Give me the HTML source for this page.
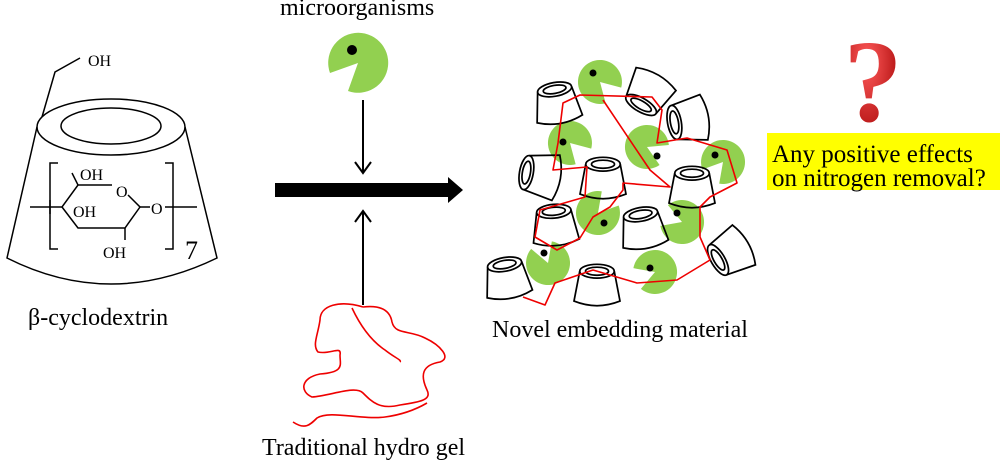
<!DOCTYPE html>
<html><head><meta charset="utf-8"><style>
html,body{margin:0;padding:0;background:#fff;}
svg{display:block;}
text{font-family:"Liberation Serif",serif;fill:#000;}
</style></head><body>
<svg width="1000" height="466" viewBox="0 0 1000 466" xmlns="http://www.w3.org/2000/svg">
<defs>
<path id="pac" d="M0,0 L19,-11 A22,22 0 1 0 19,11 Z" fill="#92d050"/>
<g id="cup" fill="none" stroke="#000" stroke-width="1.5">
<ellipse cx="0" cy="-12" rx="15" ry="6"/>
<ellipse cx="0" cy="-12" rx="10" ry="3.5"/>
<path d="M-15,-12 L-20,14 Q0,22 20,14 L15,-12"/>
</g>
<radialGradient id="qg" cx="0.4" cy="0.35" r="0.7"><stop offset="0" stop-color="#ff5a5a"/><stop offset="1" stop-color="#a00000"/></radialGradient>
</defs>

<!-- beta-cyclodextrin -->
<g fill="none" stroke="#000" stroke-width="1.5">
<path d="M42,117 L55,72 L80,58"/>
<ellipse cx="111" cy="127" rx="74" ry="28" fill="#fff"/>
<ellipse cx="111" cy="126" rx="50" ry="18"/>
<path d="M37,127 L7,258 Q110,310 217,258 L185,127"/>
<path d="M58,163 L50,163 L50,249 L58,249"/>
<path d="M165,163 L173,163 L173,249 L165,249"/>
<path d="M30,207 L62,207 L78,185 L112,185"/>
<path d="M128,195 L140,207 L125,228 L78,228 L62,207"/>
<path d="M78,185 L72,173"/>
<path d="M125,228 L125,240"/>
<path d="M140,207 L150,207"/>
<path d="M165,207 L197,207"/>
<path d="M50,200 L50,214"/>
</g>
<text x="88" y="66" font-size="16">OH</text>
<text x="80" y="180" font-size="16">OH</text>
<text x="116" y="197" font-size="16">O</text>
<text x="73" y="217" font-size="16">OH</text>
<text x="151" y="214" font-size="16">O</text>
<text x="103" y="258" font-size="16">OH</text>
<text x="185" y="259" font-size="26">7</text>
<text x="28" y="325" font-size="24">β-cyclodextrin</text>

<!-- middle -->
<text x="280" y="15" font-size="24">microorganisms</text>
<path d="M358,63 L330,73 A30,30 0 1 1 348,91 Z" fill="#92d050"/>
<circle cx="352" cy="50" r="5" fill="#000"/>
<g stroke="#000" stroke-width="2" fill="none">
<line x1="363" y1="100" x2="363" y2="172"/>
<path d="M355,162 L363,173 L371,162"/>
<line x1="363" y1="305" x2="363" y2="212"/>
<path d="M355,222 L363,211 L371,222"/>
</g>
<polygon points="275,183 448,183 448,177 463,190 448,203 448,197 275,197" fill="#000"/>
<path d="M363,307 C340,300 320,305 320,320 C318,335 312,345 318,352 C330,355 342,345 340,355 C340,365 345,372 320,374 C300,378 300,392 312,397 C330,396 355,385 363,393 C372,402 380,410 400,405 C420,402 432,400 427,390 C420,375 422,365 440,362 C452,358 440,345 425,338 C410,330 395,335 392,322 C390,310 380,305 363,307 M352,308 C360,325 370,340 385,350 C395,358 402,360 400,362 M427,403 C415,410 400,415 385,417 C360,420 330,410 317,418 C310,425 305,430 293,422" fill="none" stroke="#e00" stroke-width="1.6"/>
<text x="262" y="455" font-size="24">Traditional hydro gel</text>

<!-- embedding material -->
<use href="#pac" transform="translate(600,82) rotate(45)"/>
<use href="#pac" transform="translate(570,143) rotate(45)"/>
<use href="#pac" transform="translate(647,147) rotate(25)"/>
<use href="#pac" transform="translate(723,162) rotate(130)"/>
<use href="#pac" transform="translate(598,213) rotate(-50)"/>
<use href="#pac" transform="translate(682,222) rotate(200)"/>
<use href="#pac" transform="translate(548,263) rotate(-110)"/>
<use href="#pac" transform="translate(655,272) rotate(160)"/>
<g fill="#000">
<circle cx="593" cy="73" r="3.5"/><circle cx="563" cy="142" r="3.5"/><circle cx="657" cy="156" r="3.5"/><circle cx="715" cy="155" r="3.5"/>
<circle cx="604" cy="223" r="3.5"/><circle cx="677" cy="213" r="3.5"/><circle cx="544" cy="253" r="3.5"/><circle cx="650" cy="268" r="3.5"/>
</g>
<use href="#cup" transform="translate(557,103) rotate(-10) scale(1.15)"/>
<use href="#cup" transform="translate(648,93) rotate(-150) scale(1.15)"/>
<use href="#cup" transform="translate(688,120) rotate(-100) scale(1.15)"/>
<use href="#cup" transform="translate(540,175) rotate(-80) scale(1.15)"/>
<use href="#cup" transform="translate(603,178) scale(1.15)"/>
<use href="#cup" transform="translate(692,187) scale(1.15)"/>
<use href="#cup" transform="translate(555,225) rotate(-5) scale(1.15)"/>
<use href="#cup" transform="translate(643,228) rotate(-10) scale(1.15)"/>
<use href="#cup" transform="translate(730,253) rotate(-120) scale(1.15)"/>
<use href="#cup" transform="translate(507,278) rotate(-10) scale(1.15)"/>
<use href="#cup" transform="translate(597,285) scale(1.15)"/>
<path d="M523,297 L545,305 L555,283 L593,270 L637,283 L677,280 L710,260 L700,237 L700,207 L710,197 L737,183 L727,150 L687,138 L657,143 L662,110 L652,97 L580,95 L563,103 L558,143 L553,170 L587,167 L585,197 L540,210 L535,237 L557,250 L580,238 L593,217 L610,207 L623,190 L623,183 L670,187 L650,170 L603,100" fill="none" stroke="#e00" stroke-width="1.6" stroke-linejoin="round"/>
<text x="492" y="337" font-size="24">Novel embedding material</text>

<!-- question -->
<text x="873" y="121" font-size="118" font-weight="bold" text-anchor="middle" style="fill:url(#qg)">?</text>
<rect x="767" y="133" width="233" height="57" fill="#ffff00"/>
<text x="772" y="162" font-size="25">Any positive effects</text>
<text x="772" y="186" font-size="25">on nitrogen removal?</text>
</svg>
</body></html>
